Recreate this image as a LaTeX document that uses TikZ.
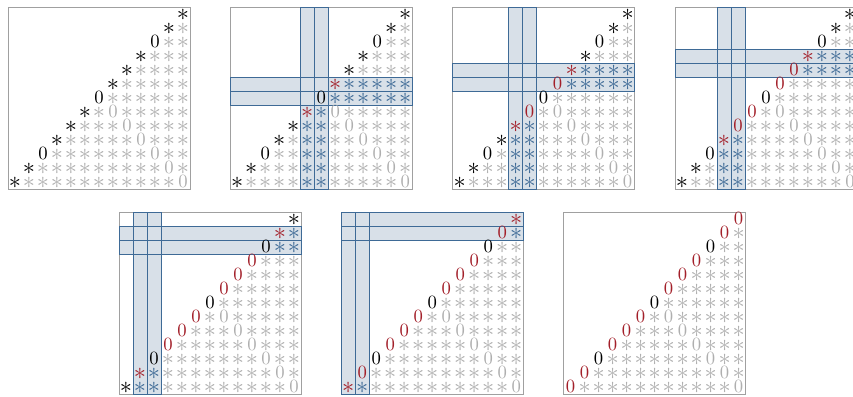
\documentclass[tikz,border=0pt]{standalone}
\usepackage{xcolor}
\usepackage{graphicx}
\usepackage{tikz}
\definecolor{grisclair}{RGB}{175,175,175}
\definecolor{griscadre}{RGB}{160,160,160}
\definecolor{rougepiv}{RGB}{163,32,42}
\definecolor{bleupiv}{RGB}{62,106,150}
\definecolor{bleufond}{RGB}{216,224,232}
\newcommand{\etoile}{\raisebox{-0.5pt}{\scalebox{1.3}{$\ast$}}}

\begin{document}
\begin{tikzpicture}[x=0.5cm,y=-0.5cm,
  ent/.style={inner sep=0pt,font=\normalsize,text height=6.4pt,text depth=0pt,scale=1.9},
  bandfill/.style={fill=bleufond},
  bandline/.style={draw=bleupiv,line width=0.8pt},
  cadre/.style={draw=griscadre,line width=0.6pt}]
\useasboundingbox (0,0) rectangle (60.93,28.29);

% panel / x offset / y offset / pivot row (0: none) / red limit
\foreach \p/\ox/\oy/\k/\m in {
  1/0.57/0.5/0/7,
  2/16.45/0.5/6/6,
  3/32.33/0.5/5/5,
  4/48.21/0.5/4/4,
  5/8.5/15.14/2/2,
  6/24.38/15.14/1/1,
  7/40.26/15.14/0/0%
} {
  \draw[cadre] (\ox,\oy) rectangle (\ox+13,\oy+13);
  \ifnum\k>0
    \fill[bandfill] (\ox,\oy+\k-1) rectangle (\ox+13,\oy+\k+1);
    \fill[bandfill] (\ox+\k-1,\oy) rectangle (\ox+\k+1,\oy+13);
    \foreach \s in {0,1} {
      \draw[bandline] (\ox,\oy+\k-1+\s) rectangle (\ox+13,\oy+\k+\s);
      \draw[bandline] (\ox+\k-1+\s,\oy) rectangle (\ox+\k+\s,\oy+13);
    }
  \fi
  % anti-diagonal
  \foreach \i in {1,...,13} {
    \pgfmathtruncatemacro\j{14-\i}
    \pgfmathtruncatemacro\dd{min(\i,14-\i)}
    \pgfmathtruncatemacro\fix{(\i==3)||(\i==7)||(\i==11)}
    \def\ecol{black}\def\esym{\etoile}
    \ifnum\fix=1 \def\esym{0}%
    \else
      \ifnum\dd=\m \def\ecol{rougepiv}\fi
      \ifnum\dd>\m \def\ecol{rougepiv}\def\esym{0}\fi
    \fi
    \node[ent,text=\ecol] (p\p-\i-\j) at (\ox+\j-0.5,\oy+\i-0.5) {\esym};
  }
  % below the anti-diagonal
  \foreach \i in {2,...,13} {
    \pgfmathtruncatemacro\js{15-\i}
    \foreach \j in {\js,...,13} {
      \pgfmathtruncatemacro\inb{(\k>0)&&(\i==\k||\i==\k+1||\j==\k||\j==\k+1)}
      \pgfmathtruncatemacro\isz{\i==\j}
      \ifnum\inb=1 \def\ecol{bleupiv}\else\def\ecol{grisclair}\fi
      \ifnum\isz=1 \def\esym{0}\else\def\esym{\etoile}\fi
      \node[ent,text=\ecol] (p\p-\i-\j) at (\ox+\j-0.5,\oy+\i-0.5) {\esym};
    }
  }
}
\end{tikzpicture}
\end{document}
